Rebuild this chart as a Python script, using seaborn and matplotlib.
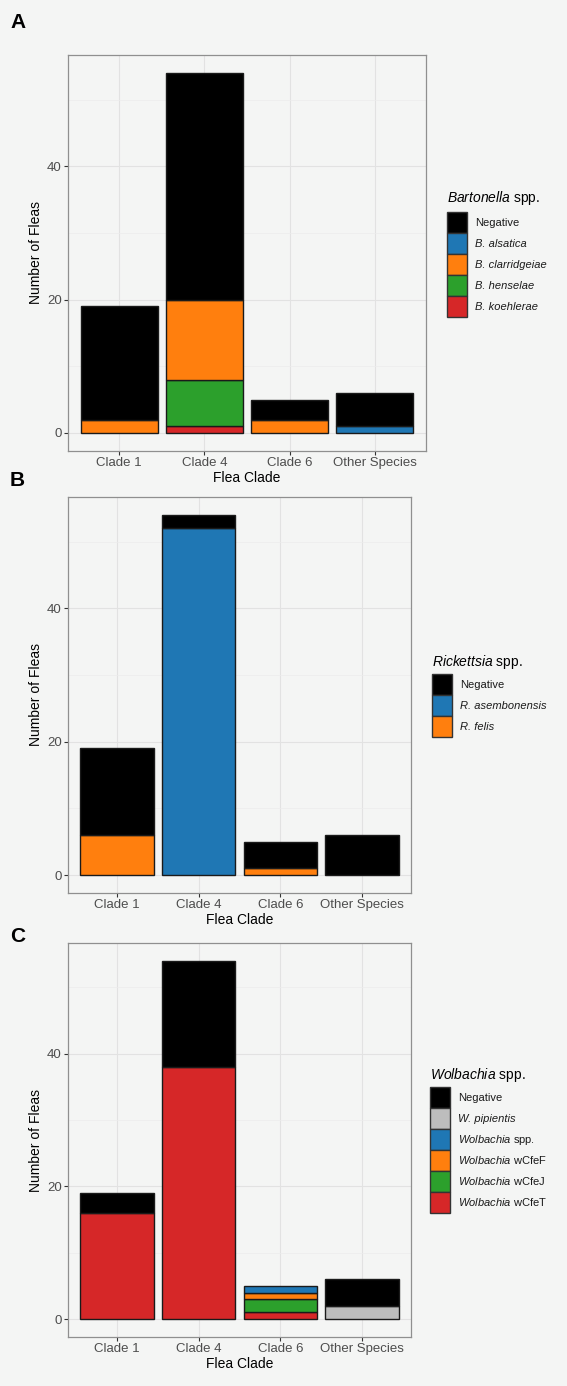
import numpy as np
import pandas as pd
import matplotlib
matplotlib.use("Agg")
import matplotlib.pyplot as plt
import seaborn as sns
from matplotlib.patches import Patch
from matplotlib.ticker import MultipleLocator

# ---------------- data ----------------
clades = ["Clade 1", "Clade 4", "Clade 6", "Other Species"]

# Panel A: Bartonella spp. (stack order bottom -> top is reverse of legend)
bart_species = ["Negative", "B. alsatica", "B. clarridgeiae", "B. henselae", "B. koehlerae"]
bart_negative = [17, 34, 3, 5]
bart_alsatica = [0, 0, 0, 1]
bart_clarridgeiae = [2, 12, 2, 0]
bart_henselae = [0, 7, 0, 0]
bart_koehlerae = [0, 1, 0, 0]

# Panel B: Rickettsia spp.
rick_species = ["Negative", "R. asembonensis", "R. felis"]
rick_negative = [13, 2, 4, 6]
rick_asembonensis = [0, 52, 0, 0]
rick_felis = [6, 0, 1, 0]

# Panel C: Wolbachia spp.
wolb_species = ["Negative", "W. pipientis", "Wolbachia spp.", "Wolbachia wCfeF",
                "Wolbachia wCfeJ", "Wolbachia wCfeT"]
wolb_negative = [3, 16, 0, 4]
wolb_pipientis = [0, 0, 0, 2]
wolb_spp = [0, 0, 1, 0]
wolb_wcfef = [0, 0, 1, 0]
wolb_wcfej = [0, 0, 2, 0]
wolb_wcfet = [16, 38, 1, 0]

BLACK, BLUE, ORANGE, GREEN, RED, GREY = "#000000", "#1f77b4", "#ff7f0e", "#2ca02c", "#d62728", "#bdbdbd"

panels = [
    dict(letter="A", genus="Bartonella",
         species=bart_species,
         values=[bart_negative, bart_alsatica, bart_clarridgeiae, bart_henselae, bart_koehlerae],
         colors=[BLACK, BLUE, ORANGE, GREEN, RED],
         labels=["Negative", "B. alsatica", "B. clarridgeiae", "B. henselae", "B. koehlerae"],
         italic=[False, True, True, True, True]),
    dict(letter="B", genus="Rickettsia",
         species=rick_species,
         values=[rick_negative, rick_asembonensis, rick_felis],
         colors=[BLACK, BLUE, ORANGE],
         labels=["Negative", "R. asembonensis", "R. felis"],
         italic=[False, True, True]),
    dict(letter="C", genus="Wolbachia",
         species=wolb_species,
         values=[wolb_negative, wolb_pipientis, wolb_spp, wolb_wcfef, wolb_wcfej, wolb_wcfet],
         colors=[BLACK, GREY, BLUE, ORANGE, GREEN, RED],
         labels=["Negative", "W. pipientis", r"$\mathit{Wolbachia}$ spp.",
                 r"$\mathit{Wolbachia}$ wCfeF", r"$\mathit{Wolbachia}$ wCfeJ",
                 r"$\mathit{Wolbachia}$ wCfeT"],
         italic=[False, True, False, False, False, False]),
]

# ---------------- style ----------------
BG = "#f4f5f4"
sns.set_theme(style="white")
plt.rcParams["font.family"] = ["Liberation Sans", "DejaVu Sans"]
plt.rcParams["mathtext.fontset"] = "custom"
plt.rcParams["mathtext.rm"] = "Liberation Sans"
plt.rcParams["mathtext.it"] = "Liberation Sans:italic"

W, H = 567, 1386
fig = plt.figure(figsize=(W / 100, H / 100), dpi=100, facecolor=BG)

# axes boxes in pixels: (left, top, right, bottom)
boxes = [(68, 55, 426, 451), (68, 497, 411, 893), (68, 943, 411, 1337)]
letter_y = [22, 481, 937]
legend_pos = [(447, 189, 212), (432, 653, 674), (430, 1066, 1087)]  # key-left x, title top, keys top

for p, box, ly, lp in zip(panels, boxes, letter_y, legend_pos):
    l, t, r, b = box
    ax = fig.add_axes([l / W, 1 - b / H, (r - l) / W, (b - t) / H])
    ax.set_facecolor(BG)

    # stacked bars: bottom layer is the last legend item
    order = list(range(len(p["species"])))[::-1]
    bottom = np.zeros(len(clades))
    for i in order:
        vals = np.array(p["values"][i], dtype=float)
        mask = vals > 0
        df = pd.DataFrame({"clade": np.array(clades)[mask], "n": vals[mask]})
        if len(df):
            sns.barplot(data=df, x="clade", y="n", order=clades, color=p["colors"][i],
                        saturation=1, width=0.9, bottom=bottom[mask],
                        edgecolor="#1a1a1a", linewidth=1.0, ax=ax, zorder=3)
        bottom = bottom + vals

    ax.set_xlim(-0.6, 3.6)
    ax.set_ylim(-2.7, 56.7)
    ax.yaxis.set_major_locator(MultipleLocator(20))
    ax.yaxis.set_minor_locator(MultipleLocator(10))
    ax.set_axisbelow(True)
    ax.grid(True, which="major", axis="both", color="#e2e2e2", linewidth=0.8, zorder=0)
    ax.grid(True, which="minor", axis="y", color="#ececec", linewidth=0.5, zorder=0)
    for s in ax.spines.values():
        s.set_visible(True)
        s.set_color("#8f8f8f")
        s.set_linewidth(0.9)
    ax.tick_params(axis="both", which="major", length=3, width=0.8, color="#333333",
                   labelsize=9.5, labelcolor="#4d4d4d", pad=1.5, left=True, bottom=True)
    ax.tick_params(axis="y", which="minor", length=0)
    ax.set_xlabel("Flea Clade", fontsize=10, color="black", labelpad=1)
    ax.set_ylabel("Number of Fleas", fontsize=10, color="black", labelpad=3)

    # legend
    kx, ttop, ktop = lp
    fig.text(kx / W, 1 - ttop / H, r"$\mathit{%s}$ spp." % p["genus"], fontsize=10,
             ha="left", va="top", color="black")
    handles = [Patch(facecolor=c, edgecolor="#333333", linewidth=1.0) for c in p["colors"]]
    leg = fig.legend(handles, p["labels"], loc="upper left",
                     bbox_to_anchor=(kx / W, 1 - ktop / H), bbox_transform=fig.transFigure,
                     frameon=False, fontsize=8, handlelength=1.8, handleheight=2.5,
                     labelspacing=0.02, handletextpad=0.7, borderpad=0, borderaxespad=0)
    for txt, it in zip(leg.get_texts(), p["italic"]):
        txt.set_color("#1a1a1a")
        if it:
            txt.set_fontstyle("italic")

    fig.text(10 / W, 1 - ly / H, p["letter"], fontsize=15, fontweight="bold",
             ha="left", va="center", color="black")

fig.savefig("out.png", dpi=100, facecolor=BG)
